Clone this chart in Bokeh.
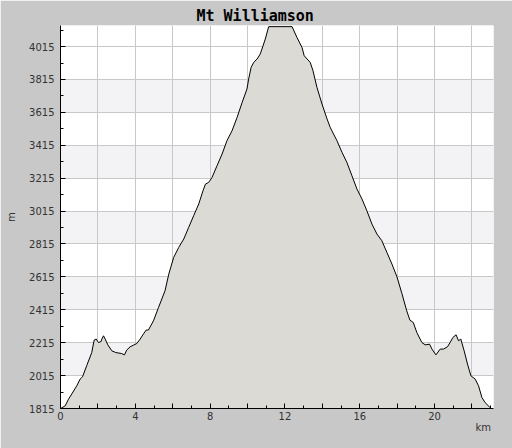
from bokeh.plotting import figure
from bokeh.models import Range1d, FixedTicker, BoxAnnotation, LinearAxis
from bokeh.embed import file_html
from bokeh.resources import INLINE

# Elevation profile (distance in km, elevation in m)
dist_km = [0.0, 0.04, 0.25, 0.43, 0.60, 0.87, 1.05, 1.18, 1.40, 1.67, 1.80, 1.91,
           2.03, 2.17, 2.21, 2.30, 2.39, 2.53, 2.74, 2.96, 3.27, 3.42, 3.54, 3.72,
           3.90, 4.08, 4.26, 4.43, 4.58, 4.70, 4.97, 5.24, 5.59, 5.79, 6.05, 6.32,
           6.59, 6.85, 7.12, 7.39, 7.62, 7.75, 7.92, 8.10, 8.37, 8.64, 8.90, 9.17,
           9.44, 9.71, 9.97, 10.06, 10.19, 10.33, 10.51, 10.68, 10.77, 10.95, 11.13,
           12.38, 12.64, 12.91, 13.03, 13.35, 13.50, 13.71, 13.98, 14.25, 14.42,
           14.51, 14.78, 15.05, 15.31, 15.58, 15.85, 16.12, 16.38, 16.65, 16.92,
           17.18, 17.45, 17.72, 17.99, 18.25, 18.51, 18.68, 18.86, 19.05, 19.32,
           19.50, 19.73, 19.86, 20.07, 20.30, 20.48, 20.69, 20.83, 20.98, 21.15,
           21.28, 21.40, 21.58, 21.76, 21.94, 22.17, 22.35, 22.53, 22.70, 22.93, 23.02]
elev_m = [1815, 1817, 1831, 1872, 1903, 1953, 1994, 2008, 2075, 2155, 2231, 2237,
          2216, 2222, 2237, 2257, 2237, 2202, 2166, 2155, 2149, 2141, 2170, 2190,
          2200, 2210, 2237, 2267, 2292, 2292, 2348, 2429, 2531, 2632, 2733, 2794,
          2845, 2915, 2987, 3058, 3139, 3179, 3189, 3219, 3291, 3362, 3443, 3503,
          3584, 3675, 3757, 3818, 3888, 3919, 3939, 3970, 4000, 4061, 4136,
          4136, 4071, 4010, 3959, 3919, 3868, 3767, 3666, 3575, 3524,
          3503, 3443, 3372, 3311, 3230, 3149, 3088, 3017, 2936, 2875,
          2835, 2764, 2693, 2615, 2515, 2409, 2352, 2338, 2277, 2216,
          2202, 2206, 2176, 2141, 2176, 2176, 2190, 2216, 2247, 2263,
          2227, 2237, 2166, 2085, 2014, 1994, 1953, 1882, 1851, 1825, 1817]

y_ticks = [1815, 2015, 2215, 2415, 2615, 2815, 3015, 3215, 3415, 3615, 3815, 4015]
y_minor = [1915, 2115, 2315, 2515, 2715, 2915, 3115, 3315, 3515, 3715, 3915, 4115]
x_ticks = [0, 2, 4, 6, 8, 10, 12, 14, 16, 18, 20, 22]
x_minor = [1, 3, 5, 7, 9, 11, 13, 15, 17, 19, 21, 23]
x_labels = {0: "0", 2: "", 4: "4", 6: "", 8: "8", 10: "", 12: "12", 14: "",
            16: "16", 18: "", 20: "20", 22: ""}

title_text = "Mt Williamson"
x_unit = "km"
y_unit = "m"
x_unit_pos = 22.6   # where the unit text sits along the x axis

p = figure(width=512, height=448, title=title_text,
           x_range=Range1d(0, 23.15), y_range=Range1d(1815, 4143),
           output_backend="svg", toolbar_location=None,
           min_border_left=60, min_border_right=19,
           min_border_top=25, min_border_bottom=40)
p.border_fill_color = "#c8c8c8"
p.background_fill_color = "white"
p.outline_line_color = None

# title
p.title.text_font = "DejaVu Sans Mono"
p.title.text_font_style = "bold"
p.title.text_font_size = "15px"
p.title.text_color = "black"
p.title.align = "left"
p.title.offset = 136
p.title.standoff = 2

# axes
p.xaxis.ticker = FixedTicker(ticks=x_ticks, minor_ticks=x_minor)
p.xaxis.major_label_overrides = x_labels
p.yaxis.ticker = FixedTicker(ticks=y_ticks, minor_ticks=y_minor)
for ax in (p.xaxis, p.yaxis):
    ax.axis_line_color = "black"
    ax.major_tick_line_color = "black"
    ax.minor_tick_line_color = "black"
    ax.major_tick_in = 5
    ax.major_tick_out = 0
    ax.minor_tick_in = 3
    ax.minor_tick_out = 0
    ax.major_label_text_font = "DejaVu Sans"
    ax.major_label_text_font_size = "10px"
    ax.major_label_text_color = "#333333"
p.xaxis.major_label_standoff = 3
p.yaxis.major_label_standoff = 6
p.yaxis.axis_label = y_unit
p.yaxis.axis_label_standoff = 9
p.yaxis.axis_label_text_font = "DejaVu Sans"
p.yaxis.axis_label_text_font_style = "normal"
p.yaxis.axis_label_text_font_size = "10px"
p.yaxis.axis_label_text_color = "#333333"

# x unit, shown at the lower right under the tick labels
unit_axis = LinearAxis(ticker=FixedTicker(ticks=[x_unit_pos], minor_ticks=[]),
                       major_label_overrides={x_unit_pos: x_unit})
unit_axis.axis_line_color = None
unit_axis.major_tick_line_color = None
unit_axis.minor_tick_line_color = None
unit_axis.major_tick_in = 0
unit_axis.major_tick_out = 0
unit_axis.minor_tick_in = 0
unit_axis.minor_tick_out = 0
unit_axis.major_label_standoff = -1
unit_axis.major_label_text_font = "DejaVu Sans"
unit_axis.major_label_text_font_size = "10px"
unit_axis.major_label_text_color = "#333333"
p.add_layout(unit_axis, "below")

# grid with alternating bands between the y grid lines
p.xgrid.ticker = FixedTicker(ticks=x_ticks)
p.ygrid.ticker = FixedTicker(ticks=y_ticks)
p.xgrid.grid_line_color = "#c8c8c8"
p.ygrid.grid_line_color = "#c8c8c8"
for i in range(1, len(y_ticks) - 1, 2):
    p.add_layout(BoxAnnotation(bottom=y_ticks[i], top=y_ticks[i + 1],
                               fill_color="#f3f2f5", fill_alpha=1.0,
                               line_color=None, level="image"))

# profile
p.varea(x=dist_km, y1=[1815] * len(dist_km), y2=elev_m, fill_color="#dbdad5")
p.line(dist_km, elev_m, line_color="black", line_width=1)

open("out.html", "w").write(file_html(p, INLINE))
